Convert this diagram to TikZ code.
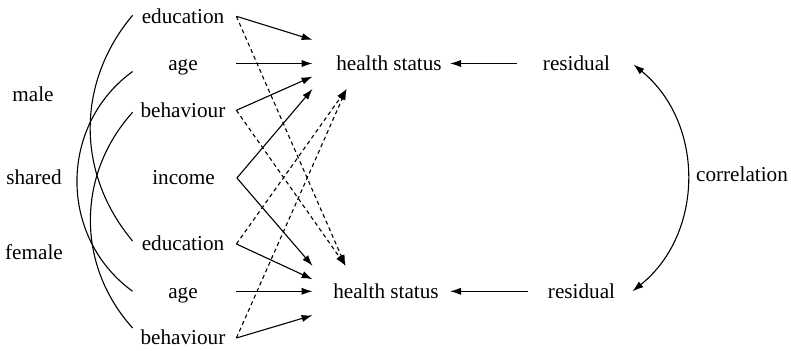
\documentclass[tikz,border=0pt]{standalone}
\usepackage{fontspec}
\setmainfont{Liberation Serif}
\usetikzlibrary{arrows.meta,calc}
\begin{document}
\begin{tikzpicture}[x=0.5pt,y=-0.5pt,
  lbl/.style={font=\fontsize{10.6}{12}\selectfont, inner sep=0pt, text height=8pt, text depth=1pt, anchor=base},
  var/.style={lbl, minimum width=53pt},
  hs/.style={lbl, minimum height=25pt},
  tip/.tip={Latex[length=5.5pt,width=3.6pt]},
  arr/.style={-tip, line width=0.55pt},
  dsh/.style={arr, dash pattern=on 2pt off 1.6pt},
  arcline/.style={line width=0.55pt},
]
\useasboundingbox (0,0) rectangle (791,351);

% left column
\node[var] (e1) at (183,23.3) {education};
\node[var] (a1) at (183,70.5) {age};
\node[var] (b1) at (183,117.3) {behaviour};
\node[var] (in) at (183.5,185) {income};
\node[var] (e2) at (183,251) {education};
\node[var] (a2) at (183,298.3) {age};
\node[var] (b2) at (183,345) {behaviour};
% group labels
\node[lbl] (m) at (33,101.7) {male};
\node[lbl] (s) at (34,185) {shared};
\node[lbl] (f) at (34,260) {female};
% outcomes
\node[hs, minimum width=76pt] (h1) at (389,70.5) {health status};
\node[hs, minimum width=73pt] (h2) at (386,298.3) {health status};
\node[lbl, inner xsep=13pt] (r1) at (576.5,70.5) {residual};
\node[lbl, inner xsep=10pt] (r2) at (581.5,298.3) {residual};
\node[lbl] (c) at (742,181.7) {correlation};

% solid arrows
\draw[arr] (e1.east) -- (h1);
\draw[arr] (a1.east) -- (h1);
\draw[arr] (b1.east) -- ($(h1.west)+(0,13)$);
\draw[arr] (in.east) -- (h1.south west);
\draw[arr] (in.east) -- (h2.north west);
\draw[arr] (e2.east) -- ($(h2.west)+(0,-12)$);
\draw[arr] (a2.east) -- (h2);
\draw[arr] (b2.east) -- ($(h2.west)+(0,24)$);

% dashed arrows
\draw[dsh] (e1.east) -- ($(h2.north west)+(33,0)$);
\draw[dsh] (b1.east) -- ($(h2.north west)+(33,0)$);
\draw[dsh] (e2.east) -- ($(h1.south west)+(34,0)$);
\draw[dsh] (b2.east) -- ($(h1.south west)+(34,0)$);

% residuals
\draw[arr] (r1.west) -- ($(h1.center)+(61,0)$);
\draw[arr] (r2.west) -- ($(h2.center)+(64,0)$);

% correlation
\draw[tip-tip, line width=0.55pt] ($(r1.east)+(-3,1)$) to[bend left=51, looseness=1.04] ($(r2.east)+(-3,0)$);

% left arcs
\draw[arcline] ($(e1.west)+(3,-1)$) to[bend right=40] ($(e2.west)+(3,-3)$);
\draw[arcline] ($(a1.west)+(3,8)$) to[bend right=54, looseness=1.07] ($(a2.west)+(3,0)$);
\draw[arcline] ($(b1.west)+(3,2)$) to[bend right=42] ($(b2.west)+(3,-10)$);
\end{tikzpicture}
\end{document}
